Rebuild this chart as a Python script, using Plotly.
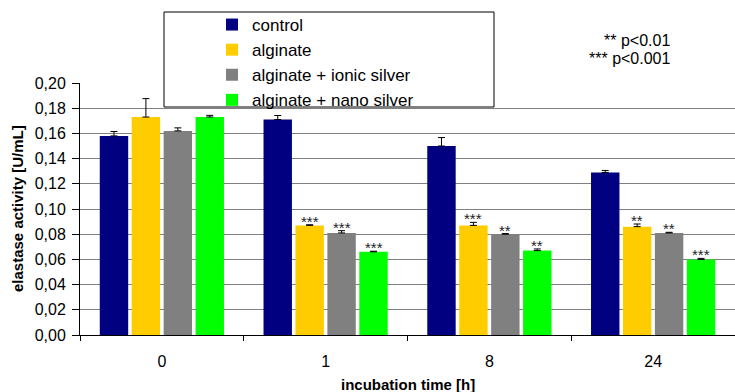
import plotly.graph_objects as go

categories = ["0", "1", "8", "24"]
series_names = ["control", "alginate", "alginate + ionic silver", "alginate + nano silver"]
colors = ["#000080", "#FFCC00", "#808080", "#00FF00"]

control = [0.158, 0.171, 0.150, 0.129]
alginate = [0.173, 0.087, 0.087, 0.086]
ionic = [0.162, 0.081, 0.080, 0.081]
nano = [0.173, 0.066, 0.067, 0.060]

control_err = [0.0035, 0.0032, 0.0067, 0.0016]
alginate_err = [0.0146, 0.0005, 0.0024, 0.0021]
ionic_err = [0.0024, 0.0018, 0.0005, 0.0005]
nano_err = [0.0013, 0.0005, 0.0013, 0.0008]

stars_control = ["", "", "", ""]
stars_alginate = ["", "***", "***", "**"]
stars_ionic = ["", "***", "**", "**"]
stars_nano = ["", "***", "**", "***"]

p_notes = ["** p<0.01", "*** p<0.001"]

values = [control, alginate, ionic, nano]
errors = [control_err, alginate_err, ionic_err, nano_err]
stars = [stars_control, stars_alginate, stars_ionic, stars_nano]

FONT = "Liberation Sans, Arial, sans-serif"
bargap = 0.22

# pixel geometry helpers (plot area: x 80..735, y 83..335)
def px_x(px):
    return (px - 80) / 655

def px_y(py):
    return (335 - py) / 252

fig = go.Figure()
for j, name in enumerate(series_names):
    fig.add_trace(go.Bar(
        x=categories, y=values[j], name=name,
        marker=dict(color=colors[j], line=dict(width=0)),
        error_y=dict(type="data", symmetric=False, array=errors[j],
                     arrayminus=[0] * len(categories),
                     color="black", thickness=1, width=3.5),
    ))

annotations = []
nser = len(series_names)
for j in range(nser):
    for i in range(len(categories)):
        s = stars[j][i]
        if s:
            xpos = i + (j - (nser - 1) / 2) * (1 - bargap) / nser
            annotations.append(dict(
                x=xpos, y=values[j][i] + errors[j][i], xref="x", yref="y",
                text=s, showarrow=False, yanchor="bottom", yshift=-7,
                font=dict(family=FONT, size=15, color="#222222"),
            ))

# p-value note
annotations.append(dict(
    xref="paper", yref="paper", x=px_x(672), y=px_y(41),
    xanchor="right", yanchor="middle", showarrow=False,
    text=p_notes[0], font=dict(family=FONT, size=16, color="black")))
annotations.append(dict(
    xref="paper", yref="paper", x=px_x(673), y=px_y(59),
    xanchor="right", yanchor="middle", showarrow=False,
    text=p_notes[1], font=dict(family=FONT, size=16, color="black")))

# axis titles
annotations.append(dict(
    xref="paper", yref="paper", x=0.5, y=px_y(384),
    xanchor="center", yanchor="middle", showarrow=False,
    text="<b>incubation time [h]</b>", font=dict(family=FONT, size=15, color="black")))
annotations.append(dict(
    xref="paper", yref="paper", x=px_x(17), y=0.5, textangle=-90,
    xanchor="center", yanchor="middle", showarrow=False,
    text="<b>elastase activity [U/mL]</b>", font=dict(family=FONT, size=15, color="black")))

fig.update_layout(
    width=735, height=392,
    margin=dict(l=80, r=0, t=83, b=57),
    paper_bgcolor="white", plot_bgcolor="white",
    barmode="group", bargap=bargap, bargroupgap=0.11,
    separators=",.",
    font=dict(family=FONT, size=16, color="black"),
    showlegend=True,
    legend=dict(
        x=px_x(212), y=px_y(7), xanchor="left", yanchor="top",
        xref="paper", yref="paper",
        bgcolor="rgba(0,0,0,0)", borderwidth=0,
        font=dict(family=FONT, size=17, color="black"),
        traceorder="normal",
    ),
    shapes=[dict(
        type="rect", xref="paper", yref="paper",
        x0=px_x(164), x1=px_x(494),
        y0=px_y(107), y1=px_y(12),
        fillcolor="white", line=dict(color="black", width=1), layer="above",
    )],
    annotations=annotations,
    xaxis=dict(
        showline=True, linecolor="black", linewidth=1,
        ticks="outside", tickson="boundaries", ticklen=5, tickcolor="black",
        showgrid=False, ticklabelstandoff=12,
        tickfont=dict(family=FONT, size=16, color="black"),
    ),
    yaxis=dict(
        range=[0, 0.2], dtick=0.02, tickformat=".2f",
        showline=True, linecolor="black", linewidth=1,
        ticks="outside", ticklen=7, tickcolor="black",
        showgrid=True, gridcolor="#808080", gridwidth=1,
        zeroline=False, ticklabelstandoff=3,
        tickfont=dict(family=FONT, size=16, color="black"),
    ),
)

fig.write_html(
    "out.html",
    config={"displayModeBar": False},
    post_script="document.body.style.margin='0';document.body.style.overflow='hidden';",
)
